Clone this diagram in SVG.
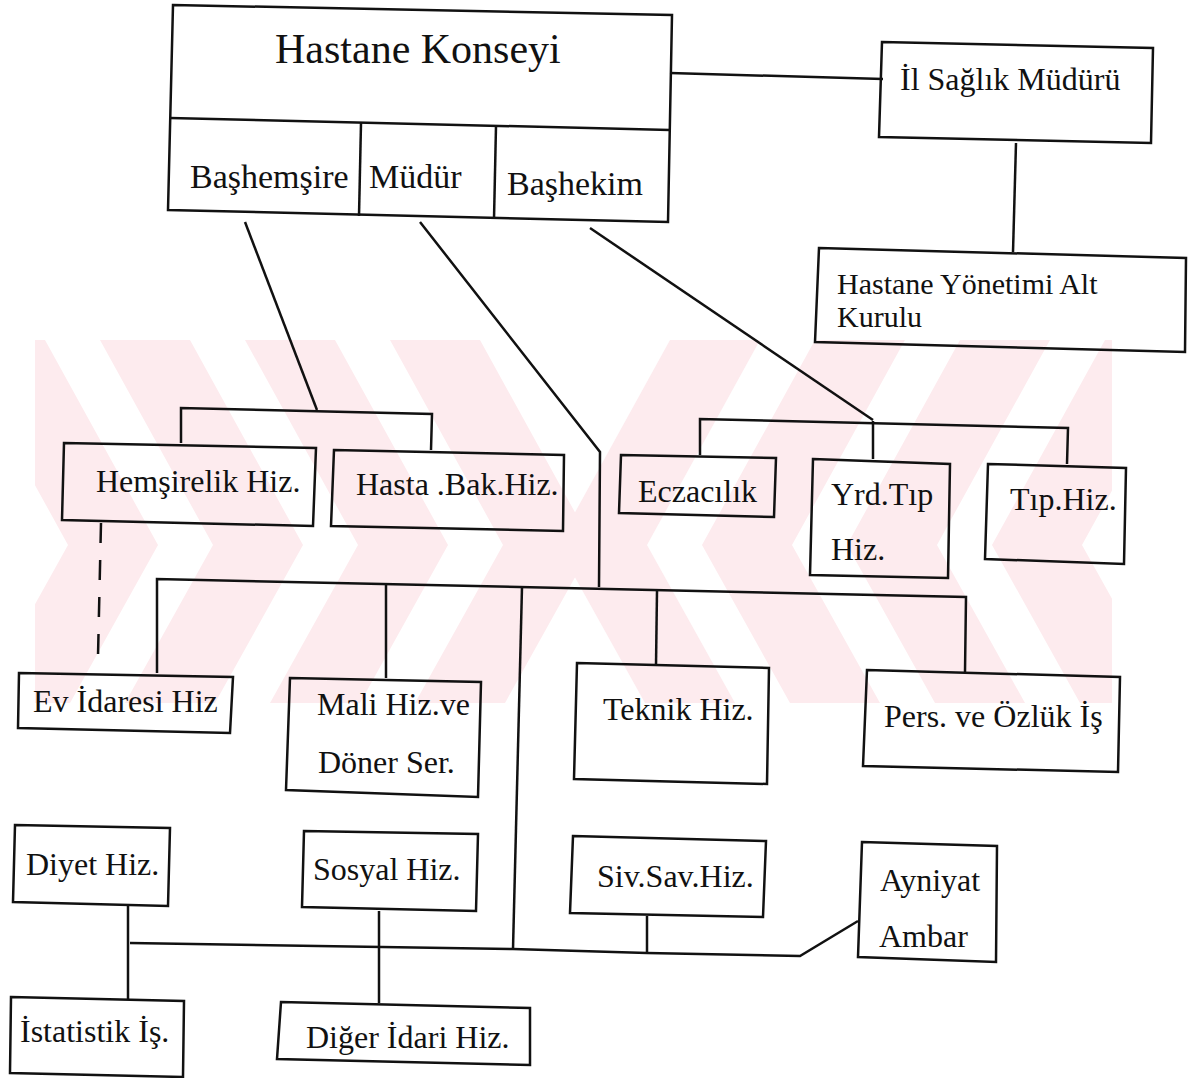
<svg xmlns="http://www.w3.org/2000/svg" width="1189" height="1078" viewBox="0 0 1189 1078">
<style>
.box{fill:none;stroke:#111;stroke-width:2.5;stroke-linejoin:miter}
.ln{fill:none;stroke:#111;stroke-width:2.5}
.dash{fill:none;stroke:#111;stroke-width:2.5;stroke-dasharray:20 17}
.t{font-family:"Liberation Serif","Times New Roman",serif;font-size:32px;fill:#111}
.big{font-size:42px}
.mid{font-size:34px}
.sm{font-size:30px}
.wm{fill:#fdebee}
</style>
<defs>
<clipPath id="wmclip"><rect x="35" y="340" width="1077" height="363"/></clipPath>
</defs>
<rect width="1189" height="1078" fill="#fff"/>
<g id="watermark" clip-path="url(#wmclip)">
<polygon class="wm" points="-45,340 45,340 158,545 70,703 -20,703 68,545"/>
<polygon class="wm" points="100,340 190,340 303,545 215,703 125,703 213,545"/>
<polygon class="wm" points="245,340 335,340 448,545 360,703 270,703 358,545"/>
<polygon class="wm" points="390,340 480,340 593,545 505,703 415,703 503,545"/>
<polygon class="wm" points="1195,340 1105,340 992,545 1080,703 1170,703 1082,545"/>
<polygon class="wm" points="1050,340 960,340 847,545 935,703 1025,703 937,545"/>
<polygon class="wm" points="905,340 815,340 702,545 790,703 880,703 792,545"/>
<polygon class="wm" points="760,340 670,340 557,545 645,703 735,703 647,545"/>
</g>
<g id="connectors">
<polyline class="ln" points="670,73 883,79"/>
<polyline class="ln" points="1016,143 1013,252"/>
<polyline class="ln" points="245,222 317,410"/>
<polyline class="ln" points="181,443 181,408 432,414 431,450"/>
<polyline class="ln" points="420,222 600,452 599,587"/>
<polyline class="ln" points="157,673 157,579 966,597 965,672"/>
<polyline class="ln" points="386,585 386,678"/>
<polyline class="ln" points="522,587 513,949"/>
<polyline class="ln" points="657,591 656,665"/>
<polyline class="ln" points="590,228 873,420"/>
<polyline class="ln" points="700,455 700,419 1068,428 1067,464"/>
<polyline class="ln" points="873,421 873,459"/>
<line class="dash" x1="101" y1="523" x2="98" y2="656"/>
<polyline class="ln" points="130,943 513,949 647,953 800,956 858,921"/>
<polyline class="ln" points="128,906 128,999"/>
<polyline class="ln" points="379,911 379,1003"/>
<polyline class="ln" points="647,916 647,953"/>
</g>
<g id="hastane-konseyi">
<polygon class="box" points="173,5 672,15 668,222 168,210"/>
<line class="ln" x1="170" y1="118" x2="670" y2="130"/>
<line class="ln" x1="361" y1="123" x2="359" y2="216"/>
<line class="ln" x1="496" y1="126" x2="494" y2="219"/>
<text class="t big" x="275" y="63">Hastane Konseyi</text>
<text class="t mid" x="190" y="188">Başhemşire</text>
<text class="t mid" x="369" y="188">Müdür</text>
<text class="t mid" x="507" y="195">Başhekim</text>
</g>
<g id="il-saglik-muduru">
<polygon class="box" points="882,42 1153,48 1151,143 879,137"/>
<text class="t" x="900" y="90">İl Sağlık Müdürü</text>
</g>
<g id="hastane-yonetimi">
<polygon class="box" points="819,248 1186,258 1185,352 815,342"/>
<text class="t sm" x="837" y="294">Hastane Yönetimi Alt</text>
<text class="t sm" x="837" y="327">Kurulu</text>
</g>
<g id="hemsirelik">
<polygon class="box" points="64,443 316,448 313,526 62,520"/>
<text class="t" x="96" y="492">Hemşirelik Hiz.</text>
</g>
<g id="hasta-bak">
<polygon class="box" points="334,450 564,455 563,531 331,526"/>
<text class="t" x="356" y="495">Hasta .Bak.Hiz.</text>
</g>
<g id="eczacilik">
<polygon class="box" points="621,455 776,458 774,517 619,513"/>
<text class="t" x="638" y="502">Eczacılık</text>
</g>
<g id="yrd-tip">
<polygon class="box" points="813,459 950,464 948,578 810,575"/>
<text class="t" x="831" y="505">Yrd.Tıp</text>
<text class="t" x="831" y="560">Hiz.</text>
</g>
<g id="tip-hiz">
<polygon class="box" points="988,464 1126,468 1124,564 985,559"/>
<text class="t" x="1010" y="510">Tıp.Hiz.</text>
</g>
<g id="ev-idaresi">
<polygon class="box" points="19,673 233,677 230,733 18,728"/>
<text class="t" x="33" y="712">Ev İdaresi Hiz</text>
</g>
<g id="mali-hiz">
<polygon class="box" points="290,678 481,682 478,797 286,790"/>
<text class="t" x="317" y="715">Mali Hiz.ve</text>
<text class="t" x="318" y="773">Döner Ser.</text>
</g>
<g id="teknik-hiz">
<polygon class="box" points="577,663 769,668 767,784 574,779"/>
<text class="t" x="603" y="720">Teknik Hiz.</text>
</g>
<g id="pers-ozluk">
<polygon class="box" points="867,670 1120,677 1118,772 863,766"/>
<text class="t" x="884" y="727">Pers. ve Özlük İş</text>
</g>
<g id="diyet-hiz">
<polygon class="box" points="15,825 170,828 168,906 13,902"/>
<text class="t" x="26" y="875">Diyet Hiz.</text>
</g>
<g id="sosyal-hiz">
<polygon class="box" points="304,831 478,834 476,911 302,907"/>
<text class="t" x="313" y="880">Sosyal Hiz.</text>
</g>
<g id="siv-sav-hiz">
<polygon class="box" points="573,836 766,841 763,917 570,913"/>
<text class="t" x="597" y="887">Siv.Sav.Hiz.</text>
</g>
<g id="ayniyat-ambar">
<polygon class="box" points="862,842 997,846 996,962 858,957"/>
<text class="t" x="880" y="891">Ayniyat</text>
<text class="t" x="879" y="947">Ambar</text>
</g>
<g id="istatistik">
<polygon class="box" points="11,997 184,1001 183,1077 10,1073"/>
<text class="t" x="20" y="1042">İstatistik İş.</text>
</g>
<g id="diger-idari">
<polygon class="box" points="281,1002 530,1008 530,1065 277,1059"/>
<text class="t" x="306" y="1048">Diğer İdari Hiz.</text>
</g>
</svg>
